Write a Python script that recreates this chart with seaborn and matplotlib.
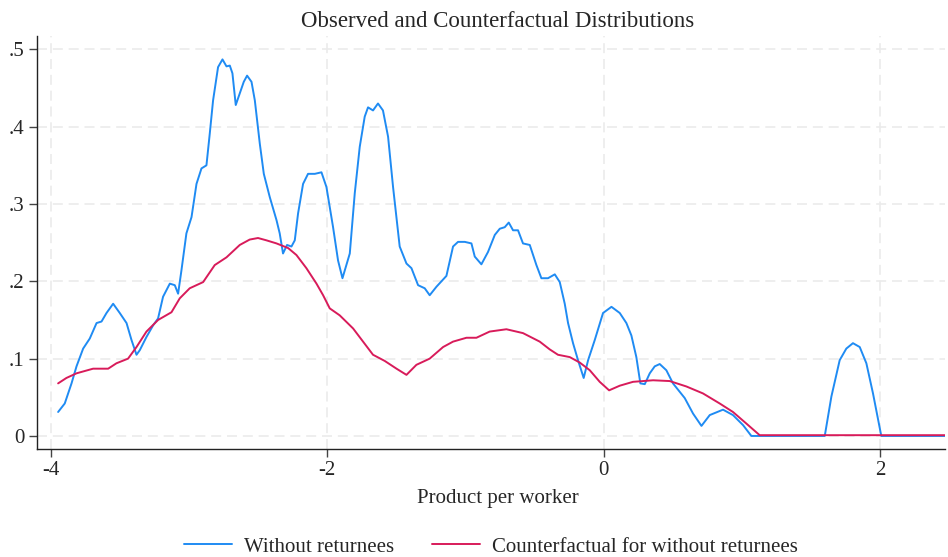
import numpy as np
import pandas as pd
import matplotlib
matplotlib.use("Agg")
import matplotlib.pyplot as plt
import seaborn as sns

# Kernel density of product per worker, observed sample
obs_x = [-3.947, -3.899, -3.850, -3.814, -3.766, -3.718, -3.669, -3.633, -3.597, -3.549,
         -3.501, -3.452, -3.416, -3.380, -3.356, -3.308, -3.260, -3.224, -3.188, -3.139,
         -3.103, -3.079, -3.055, -3.019, -2.982, -2.946, -2.910, -2.874, -2.850, -2.826,
         -2.790, -2.758, -2.729, -2.705, -2.686, -2.662, -2.633, -2.604, -2.580, -2.548,
         -2.524, -2.488, -2.459, -2.416, -2.367, -2.344, -2.320, -2.291, -2.259, -2.235,
         -2.211, -2.175, -2.139, -2.090, -2.042, -2.006, -1.958, -1.922, -1.890, -1.837,
         -1.801, -1.765, -1.729, -1.705, -1.669, -1.633, -1.597, -1.560, -1.524, -1.476,
         -1.427, -1.391, -1.343, -1.295, -1.259, -1.210, -1.138, -1.090, -1.054, -1.005,
         -0.957, -0.933, -0.885, -0.837, -0.788, -0.752, -0.716, -0.687, -0.656, -0.620,
         -0.584, -0.535, -0.487, -0.451, -0.403, -0.354, -0.318, -0.282, -0.258, -0.222,
         -0.186, -0.145, -0.113, -0.065, -0.005, 0.056, 0.116, 0.164, 0.200, 0.236,
         0.265, 0.297, 0.333, 0.369, 0.405, 0.453, 0.501, 0.586, 0.646, 0.707,
         0.767, 0.863, 0.935, 1.008, 1.068, 1.599, 1.647, 1.707, 1.755, 1.803,
         1.852, 1.900, 1.948, 2.008, 2.467]
obs_y = [0.031, 0.042, 0.068, 0.090, 0.113, 0.126, 0.146, 0.148, 0.159, 0.171,
         0.159, 0.146, 0.124, 0.105, 0.111, 0.128, 0.143, 0.152, 0.180, 0.197,
         0.195, 0.184, 0.214, 0.262, 0.283, 0.326, 0.346, 0.350, 0.391, 0.434,
         0.477, 0.487, 0.478, 0.479, 0.469, 0.428, 0.443, 0.458, 0.466, 0.458,
         0.434, 0.378, 0.339, 0.309, 0.279, 0.262, 0.236, 0.247, 0.245, 0.253,
         0.288, 0.326, 0.339, 0.339, 0.341, 0.322, 0.270, 0.227, 0.204, 0.236,
         0.314, 0.374, 0.413, 0.425, 0.421, 0.430, 0.421, 0.387, 0.322, 0.245,
         0.223, 0.217, 0.195, 0.191, 0.182, 0.193, 0.207, 0.245, 0.251, 0.251,
         0.249, 0.232, 0.222, 0.238, 0.260, 0.268, 0.270, 0.276, 0.266, 0.266,
         0.249, 0.247, 0.221, 0.204, 0.204, 0.209, 0.199, 0.171, 0.146, 0.120,
         0.098, 0.075, 0.098, 0.124, 0.159, 0.167, 0.159, 0.146, 0.130, 0.102,
         0.068, 0.067, 0.081, 0.090, 0.093, 0.085, 0.068, 0.049, 0.029, 0.013,
         0.027, 0.034, 0.027, 0.014, 0.000, 0.000, 0.051, 0.098, 0.113, 0.120,
         0.115, 0.094, 0.055, 0.000, 0.000]

# Counterfactual density
cf_x = [-3.947, -3.887, -3.814, -3.694, -3.585, -3.525, -3.441, -3.380, -3.308, -3.224,
        -3.127, -3.067, -2.995, -2.898, -2.814, -2.729, -2.633, -2.561, -2.501, -2.440,
        -2.367, -2.283, -2.223, -2.151, -2.078, -2.030, -1.982, -1.910, -1.813, -1.741,
        -1.669, -1.584, -1.499, -1.427, -1.355, -1.259, -1.162, -1.090, -0.993, -0.921,
        -0.825, -0.704, -0.584, -0.463, -0.391, -0.331, -0.246, -0.174, -0.101, -0.029,
        0.039, 0.116, 0.212, 0.357, 0.477, 0.598, 0.718, 0.839, 0.935, 1.032,
        1.128, 2.467]
cf_y = [0.068, 0.075, 0.081, 0.087, 0.087, 0.094, 0.100, 0.115, 0.135, 0.150,
        0.160, 0.178, 0.191, 0.199, 0.221, 0.231, 0.247, 0.254, 0.256, 0.253,
        0.249, 0.243, 0.234, 0.217, 0.197, 0.182, 0.165, 0.156, 0.139, 0.122,
        0.105, 0.097, 0.087, 0.079, 0.092, 0.100, 0.115, 0.122, 0.127, 0.127,
        0.135, 0.138, 0.133, 0.122, 0.112, 0.105, 0.102, 0.095, 0.085, 0.070,
        0.059, 0.065, 0.070, 0.072, 0.071, 0.064, 0.055, 0.042, 0.031, 0.016,
        0.001, 0.001]

labels = ["Without returnees", "Counterfactual for without returnees"]
x_ticks = [-4, -2, 0, 2]
y_ticks = [0, 0.1, 0.2, 0.3, 0.4, 0.5]
y_tick_labels = ["0", ".1", ".2", ".3", ".4", ".5"]

df = pd.concat([
    pd.DataFrame({"x": obs_x, "density": obs_y, "series": labels[0]}),
    pd.DataFrame({"x": cf_x, "density": cf_y, "series": labels[1]}),
], ignore_index=True)

sns.set_theme(style="white")
plt.rcParams["font.family"] = ["Liberation Serif", "DejaVu Serif"]

fig = plt.figure(figsize=(9.48, 5.57), dpi=100)
ax = fig.add_axes([0.039, 0.194, 0.958, 0.741])

palette = {labels[0]: "#1f8bf3", labels[1]: "#d81b5a"}
sns.lineplot(data=df, x="x", y="density", hue="series", palette=palette,
             linewidth=1.4, ax=ax, sort=False, estimator=None, legend=True)

ax.set_xlim(-4.10, 2.47)
ax.set_ylim(-0.0168, 0.517)
ax.set_xticks(x_ticks)
ax.set_xticklabels([str(t) for t in x_ticks])
ax.set_yticks(y_ticks)
ax.set_yticklabels(y_tick_labels)

ax.grid(True, color="#ebebeb", linestyle=(0, (6, 3.5)), linewidth=1.2)
ax.set_axisbelow(True)
for side in ["top", "right"]:
    ax.spines[side].set_visible(False)
for side in ["left", "bottom"]:
    ax.spines[side].set_color("#222222")
    ax.spines[side].set_linewidth(1.0)

ax.tick_params(axis="both", which="major", direction="out", length=6, width=1,
               color="#444444", labelsize=15, pad=3, left=True, bottom=True)

fig.text(0.525, 0.962, "Observed and Counterfactual Distributions",
         ha="center", va="center", fontsize=16.5)

ax.set_xlabel("Product per worker", fontsize=15)
ax.xaxis.label.set_va("center")
ax.xaxis.set_label_coords(0.507, -0.119)
ax.set_ylabel("")

handles, lbls = ax.get_legend_handles_labels()
ax.get_legend().remove()
fig.legend(handles, lbls, loc="center", bbox_to_anchor=(0.518, 0.018),
           ncol=2, frameon=False, fontsize=15, handlelength=2.3,
           columnspacing=1.8, handletextpad=0.6)

fig.savefig("out.png", dpi=100)
